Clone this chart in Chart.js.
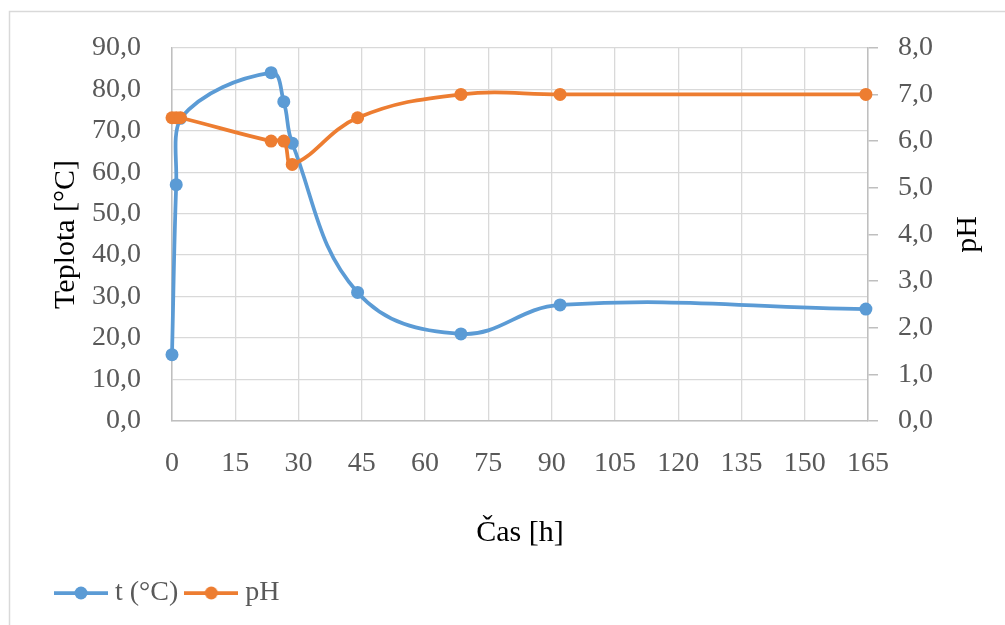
<!DOCTYPE html>
<html>
<head>
<meta charset="utf-8">
<script src="https://cdn.jsdelivr.net/npm/chart.js@4.4.1/dist/chart.umd.min.js"></script>
<style>
  body { margin: 0; background: #fff; }
  canvas { display: block; }
</style>
</head>
<body>
<canvas id="myChart" width="1005" height="625"></canvas>
<script>
// čas odběru [h]
const hours = [0, 1, 2, 23.5, 26.5, 28.5, 44, 68.5, 92, 164.5];
// teplota [°C]
const temperature = [16, 57, 73, 84, 77, 67, 31, 21, 28, 27];
// pH
const phValues = [6.5, 6.5, 6.5, 6.0, 6.0, 5.5, 6.5, 7.0, 7.0, 7.0];

const colors = {
  blue: "#5b9bd5",
  orange: "#ed7d31",
  grid: "#d9d9d9",
  axis: "#bfbfbf",
  text: "#595959",
};
const FONT = "'Liberation Serif', 'Times New Roman', serif";

const toPoints = (ys) => hours.map((h, i) => ({ x: h, y: ys[i] }));
const comma = (v) => v.toFixed(1).replace(".", ",");

// legend icon: line with a marker in the middle
function legendIcon(color) {
  const c = document.createElement("canvas");
  c.width = 54;
  c.height = 16;
  const g = c.getContext("2d");
  g.strokeStyle = color;
  g.lineWidth = 3.75;
  g.beginPath();
  g.moveTo(0, 8);
  g.lineTo(54, 8);
  g.stroke();
  g.fillStyle = color;
  g.beginPath();
  g.arc(27, 8, 6.5, 0, Math.PI * 2);
  g.fill();
  return c;
}

const frameAndTitle = {
  id: "frameAndTitle",
  beforeDraw(chart) {
    const ctx = chart.ctx;
    ctx.save();
    ctx.fillStyle = "#fff";
    ctx.fillRect(0, 0, chart.width, chart.height);
    ctx.strokeStyle = colors.grid;
    ctx.lineWidth = 1.5;
    ctx.strokeRect(9.5, 11.5, chart.width + 20, chart.height + 20);
    ctx.restore();
  },
  afterDraw(chart) {
    const ctx = chart.ctx;
    const area = chart.chartArea;
    ctx.save();
    ctx.translate(968, (area.top + area.bottom) / 2);
    ctx.rotate(-Math.PI / 2);
    ctx.font = "30px " + FONT;
    ctx.fillStyle = "#000";
    ctx.textAlign = "center";
    ctx.textBaseline = "middle";
    ctx.fillText("pH", 0, 0);
    ctx.restore();
  },
};

const ctx = document.getElementById("myChart").getContext("2d");
new Chart(ctx, {
  type: "line",
  data: {
    datasets: [
      {
        label: "t (°C)",
        data: toPoints(temperature),
        yAxisID: "y",
        borderColor: colors.blue,
        backgroundColor: colors.blue,
        pointBackgroundColor: colors.blue,
        borderWidth: 3.75,
        pointRadius: 6.5,
        pointBorderWidth: 0,
        tension: 0.4,
        clip: false,
        order: 1,
      },
      {
        label: "pH",
        data: toPoints(phValues),
        yAxisID: "y1",
        borderColor: colors.orange,
        backgroundColor: colors.orange,
        pointBackgroundColor: colors.orange,
        borderWidth: 3.75,
        pointRadius: 6.5,
        pointBorderWidth: 0,
        tension: 0.4,
        clip: false,
        order: 0,
      },
    ],
  },
  options: {
    responsive: false,
    animation: false,
    layout: { padding: { left: 48, right: 0, top: 41, bottom: 8 } },
    plugins: {
      tooltip: { enabled: false },
      legend: {
        position: "bottom",
        align: "start",
        labels: {
          usePointStyle: true,
          pointStyleWidth: 40,
          padding: 13,
          color: colors.text,
          font: { family: FONT, size: 28 },
          generateLabels: (chart) =>
            chart.data.datasets.map((ds, i) => ({
              text: ds.label,
              pointStyle: legendIcon(ds.borderColor),
              fillStyle: ds.borderColor,
              strokeStyle: ds.borderColor,
              lineWidth: 0,
              fontColor: colors.text,
              hidden: false,
              datasetIndex: i,
            })),
        },
      },
    },
    scales: {
      x: {
        type: "linear",
        min: 0,
        max: 165,
        afterFit: (scale) => { scale.height = 145; },
        ticks: {
          stepSize: 15,
          padding: 26,
          color: colors.text,
          font: { family: FONT, size: 28 },
        },
        grid: { color: colors.grid, lineWidth: 1.3, drawTicks: false },
        border: { color: colors.axis, width: 1.5 },
        title: {
          display: true,
          text: "Čas [h]",
          color: "#000",
          font: { family: FONT, size: 30 },
          padding: { top: 0, bottom: 15 },
        },
      },
      y: {
        position: "left",
        min: 0,
        max: 90,
        afterFit: (scale) => { scale.width = 124; },
        ticks: {
          stepSize: 10,
          padding: 31,
          color: colors.text,
          font: { family: FONT, size: 28 },
          callback: (v) => comma(v),
        },
        grid: { color: colors.grid, lineWidth: 1.3, drawTicks: false },
        border: { color: colors.axis, width: 1.5 },
        title: {
          display: true,
          text: "Teplota [°C]",
          color: "#000",
          font: { family: FONT, size: 30 },
          padding: { top: 0, bottom: 0 },
        },
      },
      y1: {
        position: "right",
        min: 0,
        max: 8,
        afterFit: (scale) => { scale.width = 137; },
        ticks: {
          stepSize: 1,
          padding: 20,
          color: colors.text,
          font: { family: FONT, size: 28 },
          callback: (v) => comma(v),
        },
        grid: {
          drawOnChartArea: false,
          color: colors.axis,
          lineWidth: 1.5,
          tickLength: 10,
        },
        border: { color: colors.axis, width: 1.5 },
      },
    },
  },
  plugins: [frameAndTitle],
});
</script>
</body>
</html>
